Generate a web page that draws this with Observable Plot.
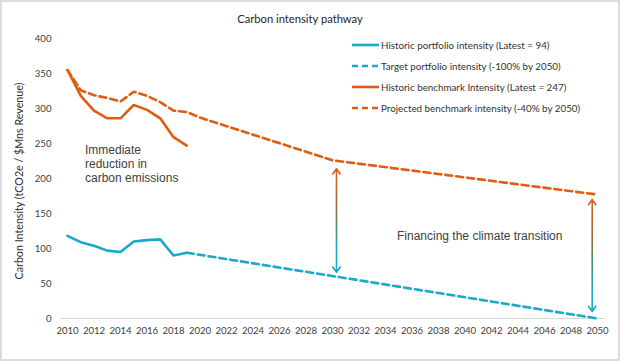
<!DOCTYPE html>
<html>
<head>
<meta charset="utf-8">
<script src="https://cdn.jsdelivr.net/npm/d3@7"></script>
<script src="https://cdn.jsdelivr.net/npm/@observablehq/plot@0.6"></script>
<style>
  html, body { margin: 0; padding: 0; background: #fff; }
  #wrap { position: relative; width: 620px; height: 361px; overflow: hidden; font-family: Lato, "Open Sans", sans-serif; color: #404040; }
  #frame { position: absolute; left: 0; top: 0; width: 620px; height: 361px; box-sizing: border-box; border: 2px solid #dcdcdc; pointer-events: none; }
  #title { position: absolute; left: 0; width: 600px; top: 12px; text-align: center; font-size: 11.2px; color: #262626; }
  #legend { position: absolute; left: 352px; top: 38px; font-size: 9.8px; color: #333; }
  .row { position: absolute; left: 0; white-space: nowrap; height: 14px; line-height: 14px; }
  .row svg { position: absolute; left: 0; top: 5px; }
  .row span { position: absolute; left: 29px; top: 0; }
  #ylab { position: absolute; left: 18px; top: 181px; transform: translate(-50%, -50%) rotate(-90deg); font-size: 10.7px; white-space: nowrap; color: #333; }
  .note { position: absolute; font-family: "Liberation Sans", Arial, sans-serif; font-size: 12px; line-height: 14px; color: #404040; }
</style>
</head>
<body>
<div id="wrap">
  <div id="chart"></div>
  <div id="title">Carbon intensity pathway</div>
  <div id="ylab">Carbon Intensity (tCO2e / $Mns Revenue)</div>
  <div id="legend"></div>
  <div class="note" style="left:85px; top:143px;">Immediate<br>reduction in<br>carbon emissions</div>
  <div class="note" style="left:397px; top:229px;">Financing the climate transition</div>
  <div id="frame"></div>
</div>
<script>
// ---- data ----
const histYears = [2010, 2011, 2012, 2013, 2014, 2015, 2016, 2017, 2018, 2019];
const histPortfolio = [118, 109, 104, 97, 95, 110, 112, 113, 90, 94];
const histBenchmark = [355, 318, 297, 286, 286, 305, 298, 286, 259, 247];

const projBenchYears = [2010, 2011, 2012, 2013, 2014, 2015, 2016, 2017, 2018, 2019, 2020, 2030, 2050];
const projBenchmark = [355, 326, 319, 315, 310, 324, 318, 309, 297, 295, 287, 226, 177];

const targetYears = [2019, 2050];
const targetPortfolio = [94, 0];

const arrowYears = [2030.3, 2049.6];
const arrowTop = [214, 170];
const arrowBottom = [66, 10];

const xTicks = d3.range(2010, 2051, 2);
const yTicks = [0, 50, 100, 150, 200, 250, 300, 350, 400];

const legendLabels = [
  "Historic portfolio intensity (Latest = 94)",
  "Target portfolio intensity (-100% by 2050)",
  "Historic benchmark Intensity (Latest = 247)",
  "Projected benchmark intensity (-40% by 2050)"
];

const CYAN = "#1aa9c8";
const ORANGE = "#e05d10";

// ---- tables ----
const hp = histYears.map((x, i) => ({x, y: histPortfolio[i]}));
const hb = histYears.map((x, i) => ({x, y: histBenchmark[i]}));
const pb = projBenchYears.map((x, i) => ({x, y: projBenchmark[i]}));
const tp = targetYears.map((x, i) => ({x, y: targetPortfolio[i]}));
const arrows = arrowYears.map((x, i) => ({x, top: arrowTop[i], bottom: arrowBottom[i], mid: (arrowTop[i] + arrowBottom[i]) / 2, id: "ag" + i}));

const chart = Plot.plot({
  width: 620,
  height: 361,
  marginLeft: 67,
  marginRight: 23,
  marginTop: 38,
  marginBottom: 43,
  style: {fontFamily: "Lato, 'Open Sans', sans-serif", fontSize: "9.6px", color: "#404040", background: "transparent"},
  x: {domain: [2010, 2050], ticks: xTicks, tickFormat: d => String(d), tickSize: 0, tickPadding: 9, label: null},
  y: {domain: [0, 400], ticks: yTicks, tickSize: 0, tickPadding: 16, label: null},
  marks: [
    Plot.ruleY([0], {stroke: "#d9d9d9", strokeWidth: 1.2, insetLeft: -7, insetRight: -8}),
    Plot.line(pb, {x: "x", y: "y", stroke: ORANGE, strokeWidth: 2.6, strokeDasharray: "7,4"}),
    Plot.line(tp, {x: "x", y: "y", stroke: CYAN, strokeWidth: 2.6, strokeDasharray: "7,4"}),
    Plot.line(hb, {x: "x", y: "y", stroke: ORANGE, strokeWidth: 2.6}),
    Plot.line(hp, {x: "x", y: "y", stroke: CYAN, strokeWidth: 2.6}),
    Plot.arrow(arrows, {x: "x", y1: "mid", y2: "top", stroke: d => `url(#${d.id})`, strokeWidth: 1.6, headLength: 6, headAngle: 70}),
    Plot.arrow(arrows, {x: "x", y1: "mid", y2: "bottom", stroke: d => `url(#${d.id})`, strokeWidth: 1.6, headLength: 6, headAngle: 70})
  ]
});

// gradients positioned through the scales
const ys = chart.scale("y");
const xs = chart.scale("x");
const svgNS = "http://www.w3.org/2000/svg";
const defs = document.createElementNS(svgNS, "defs");
arrows.forEach(a => {
  const g = document.createElementNS(svgNS, "linearGradient");
  g.setAttribute("id", a.id);
  g.setAttribute("gradientUnits", "userSpaceOnUse");
  g.setAttribute("x1", xs.apply(a.x)); g.setAttribute("x2", xs.apply(a.x));
  g.setAttribute("y1", ys.apply(a.top)); g.setAttribute("y2", ys.apply(a.bottom));
  [["0%", "#d8611a"], ["35%", "#9a6a36"], ["55%", "#4f8c66"], ["80%", CYAN], ["100%", CYAN]].forEach(([o, c]) => {
    const s = document.createElementNS(svgNS, "stop");
    s.setAttribute("offset", o); s.setAttribute("stop-color", c);
    g.appendChild(s);
  });
  defs.appendChild(g);
});
chart.insertBefore(defs, chart.firstChild);
document.getElementById("chart").appendChild(chart);

// legend
const legendStyles = [
  {c: CYAN, dash: null}, {c: CYAN, dash: "6,4"}, {c: ORANGE, dash: null}, {c: ORANGE, dash: "6,4"}
];
const rowTops = [0, 21, 42, 63];
const lg = document.getElementById("legend");
legendLabels.forEach((t, i) => {
  const r = document.createElement("div");
  r.className = "row";
  r.style.top = rowTops[i] + "px";
  const st = legendStyles[i];
  r.innerHTML = `<svg width="27" height="4"><line x1="0" x2="27" y1="2" y2="2" stroke="${st.c}" stroke-width="2.6" ${st.dash ? `stroke-dasharray="${st.dash}"` : ""}/></svg><span>${t}</span>`;
  lg.appendChild(r);
});
</script>
</body>
</html>
